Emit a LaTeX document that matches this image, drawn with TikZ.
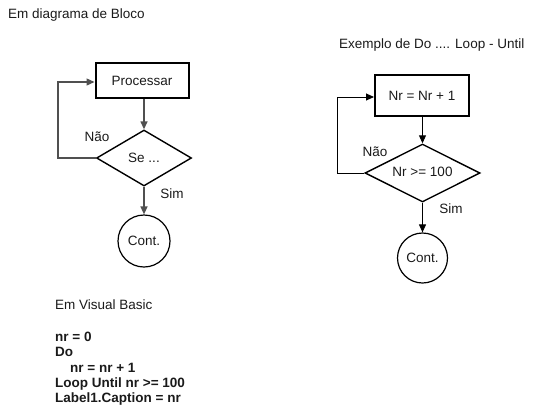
\documentclass[tikz,border=0pt]{standalone}
\usepackage{fontspec}
\setmainfont{Liberation Sans}
\usetikzlibrary{shapes.geometric,arrows.meta}
\definecolor{txt}{HTML}{1A1A1A}
\definecolor{lgray}{HTML}{505050}
\begin{document}
\begin{tikzpicture}[x=1pt,y=-1pt,
  font=\fontsize{13.5}{15.3}\selectfont, text=txt,
  procbox/.style={draw=black,line width=2pt,minimum width=#1,inner sep=0pt},
  decide/.style={diamond,draw=black,line width=1.4pt,inner sep=0pt},
  endc/.style={circle,draw=black,line width=1.2pt,inner sep=0pt,minimum size=#1},
  lconn/.style={draw=lgray,line width=1.4pt,-{Triangle[length=8pt,width=7pt]}},
  rconn/.style={draw=black,line width=0.9pt,-{Triangle[length=8pt,width=7pt]}},
  lbl/.style={inner sep=0pt}
]
\useasboundingbox (0,0) rectangle (534,410);
% titles
\node[lbl,anchor=west] (t1) at (8,15) {Em diagrama de Bloco};
\node[lbl,anchor=west] (t2) at (339,45) {Exemplo de Do .... Loop - Until};

% left diagram
\node[procbox=93pt,minimum height=35pt] (p1) at (142,80.5) {Processar};
\node[decide,minimum width=95pt,minimum height=56pt,aspect=1.7] (d1) at (144,158) {};
\node[lbl] (d1t) at (144,158) {Se ...};
\node[endc=52pt] (c1) at (144,241) {Cont.};
\node[lbl] (n1) at (97,137) {Não};
\node[lbl] (s1) at (172,194) {Sim};
\coordinate (l1a) at (58,158);
\coordinate (l1b) at (58,82);
\draw[lconn] (p1.south -| d1.north) -- (d1.north);
\draw[lconn] (d1.south) -- (c1.north);
\draw[lconn] (d1.west) -- (l1a) -- (l1b) -- (l1b -| p1.west);

% right diagram
\node[procbox=94pt,minimum height=41pt] (p2) at (422,95.5) {Nr = Nr + 1};
\node[decide,minimum width=115pt,minimum height=58pt,aspect=2] (d2) at (422.5,173) {};
\node[lbl] (d2t) at (422.5,172) {Nr >= 100};
\node[endc=50pt] (c2) at (422.5,258) {Cont.};
\node[lbl] (n2) at (375,152) {Não};
\node[lbl] (s2) at (451,209) {Sim};
\coordinate (l2a) at (337,173);
\coordinate (l2b) at (337,97);
\draw[rconn] (p2.south -| d2.north) -- (d2.north);
\draw[rconn] (d2.south) -- (c2.north);
\draw[rconn] (d2.west) -- (l2a) -- (l2b) -- (l2b -| p2.west);

% code
\node[lbl,anchor=west] (vb) at (55,305) {Em Visual Basic};
\node[lbl,anchor=north west,align=left,font=\fontsize{13.5}{15.3}\selectfont\bfseries] (code) at (55,332)
{nr = 0\\Do\\\hspace*{15pt}nr = nr + 1\\Loop Until nr >= 100\\Label1.Caption = nr};
\end{tikzpicture}
\end{document}
